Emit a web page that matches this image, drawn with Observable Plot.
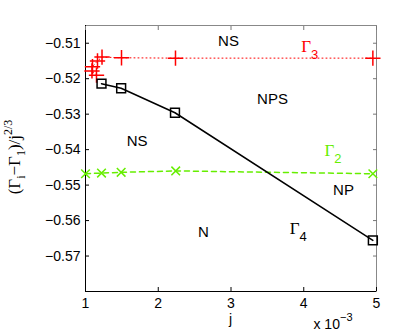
<!DOCTYPE html>
<html><head><meta charset="utf-8">
<script src="https://cdn.jsdelivr.net/npm/d3@7"></script>
<script src="https://cdn.jsdelivr.net/npm/@observablehq/plot@0.6"></script>
<style>body{margin:0;background:#fff} svg{display:block}</style>
</head><body><div id="chart"></div>
<script>
const xTicks = [1, 2, 3, 4, 5];
const yTicks = [-0.57, -0.56, -0.55, -0.54, -0.53, -0.52, -0.51];
const xDomain = [1, 5];
const yDomain = [-0.58, -0.505];

const gamma3J = [1.151, 1.089, 1.096, 1.165, 1.227, 1.495, 2.237, 4.95];
const gamma3V = [-0.5190, -0.5178, -0.5166, -0.5150, -0.5139, -0.5141, -0.5142, -0.5142];

const gamma2J = [1.0, 1.22, 1.49, 2.24, 4.95];
const gamma2V = [-0.5468, -0.5466, -0.5464, -0.5460, -0.5468];

const gamma4J = [1.22, 1.49, 2.23, 4.95];
const gamma4V = [-0.5214, -0.5227, -0.5296, -0.5656];

const regionLabels = ["NS", "NPS", "NS", "NP", "N"];
const regionJ = [2.966, 3.57, 1.71, 4.546, 2.62];
const regionV = [-0.5095, -0.5259, -0.5377, -0.5515, -0.5634];

const gammaSubs = ["3", "2", "4"];
const gammaJ = [4.09, 4.41, 3.93];
const gammaV = [-0.5125, -0.5418, -0.5640];
const gammaColors = ["#ff0000", "#66ee00", "#000000"];

const red = "#ff0000", green = "#66ee00";

const g3 = gamma3J.map((j, i) => ({j, v: gamma3V[i]}));
const g2 = gamma2J.map((j, i) => ({j, v: gamma2V[i]}));
const g4 = gamma4J.map((j, i) => ({j, v: gamma4V[i]}));
const regions = regionLabels.map((t, i) => ({t, j: regionJ[i], v: regionV[i]}));

const font = "Liberation Sans, Arial, sans-serif";

const plot = Plot.plot({
  width: 415, height: 333,
  marginLeft: 85, marginRight: 39, marginTop: 25, marginBottom: 42,
  style: {fontFamily: font, fontSize: "14px", background: "#fff", color: "#000"},
  x: {domain: xDomain, label: null},
  y: {domain: yDomain, label: null},
  marks: [
    Plot.frame({stroke: "#888"}),
    Plot.ruleY([yDomain[0]], {stroke: "#000"}),
    Plot.ruleX([xDomain[0]], {stroke: "#000"}),
    Plot.axisX(xTicks, {anchor: "bottom", tickSize: 0, tickPadding: 7, fontSize: 14}),
    Plot.axisX(xTicks, {anchor: "bottom", tickSize: 4, dy: -4, text: null}),
    Plot.axisX(xTicks, {anchor: "top", tickSize: 4, dy: 4, text: null, stroke: "#777"}),
    Plot.axisY(yTicks, {anchor: "left", tickSize: 0, tickPadding: 5, fontSize: 14, tickFormat: d3.format(".2f")}),
    Plot.axisY(yTicks, {anchor: "left", tickSize: 4, dx: 4, text: null}),
    Plot.axisY(yTicks, {anchor: "right", tickSize: 4, dx: -4, text: null, stroke: "#777"}),
    Plot.line(g3, {x: "j", y: "v", stroke: red, strokeWidth: 1, strokeDasharray: "1,3"}),
    Plot.dot(g3, {x: "j", y: "v", symbol: "plus", r: 5, stroke: red, strokeWidth: 1.5}),
    Plot.line(g2, {x: "j", y: "v", stroke: green, strokeWidth: 1.5, strokeDasharray: "5,4"}),
    Plot.dot(g2, {x: "j", y: "v", symbol: "times", r: 4, stroke: green, strokeWidth: 1.5}),
    Plot.line(g4, {x: "j", y: "v", stroke: "#000", strokeWidth: 1.5}),
    Plot.dot(g4, {x: "j", y: "v", symbol: "square", r: 5, stroke: "#000", fill: "none", strokeWidth: 1.5}),
    Plot.text(regions, {x: "j", y: "v", text: "t", fontSize: 15, fill: "#000"})
  ]
});

const svg = d3.select(plot);
const sx = plot.scale("x"), sy = plot.scale("y");

// Gamma labels
gammaSubs.forEach((s, i) => {
  const t = svg.append("text")
    .attr("x", sx.apply(gammaJ[i])).attr("y", sy.apply(gammaV[i]))
    .attr("fill", gammaColors[i])
    .attr("font-family", "Liberation Serif, Times New Roman, serif")
    .attr("font-size", 17)
    .attr("text-anchor", "middle");
  t.append("tspan").text("Γ");
  t.append("tspan").attr("font-family", font).attr("font-size", 13).attr("dy", 7).text(s);
});

// x axis label
svg.append("text").attr("x", 230.5).attr("y", 324).attr("text-anchor", "middle")
  .attr("font-family", font).attr("font-size", 14).text("j");

// exponent
const ex = svg.append("text").attr("x", 333).attr("y", 329)
  .attr("font-family", font).attr("font-size", 14);
ex.append("tspan").text("x 10");
ex.append("tspan").attr("font-size", 11).attr("dy", -8).text("−3");

// y label
const yl = svg.append("text")
  .attr("transform", "translate(20,157) rotate(-90)")
  .attr("text-anchor", "middle")
  .attr("font-family", "Liberation Serif, Times New Roman, serif")
  .attr("font-size", 17);
yl.append("tspan").text("(Γ");
yl.append("tspan").attr("font-size", 12).attr("dy", 5).text("i");
yl.append("tspan").attr("dy", -5).text("−Γ");
yl.append("tspan").attr("font-size", 12).attr("dy", 5).text("1");
yl.append("tspan").attr("dy", -5).text(")/j");
yl.append("tspan").attr("font-size", 12).attr("dy", -8).text("2/3");

document.getElementById("chart").appendChild(plot);
</script>
</body></html>
